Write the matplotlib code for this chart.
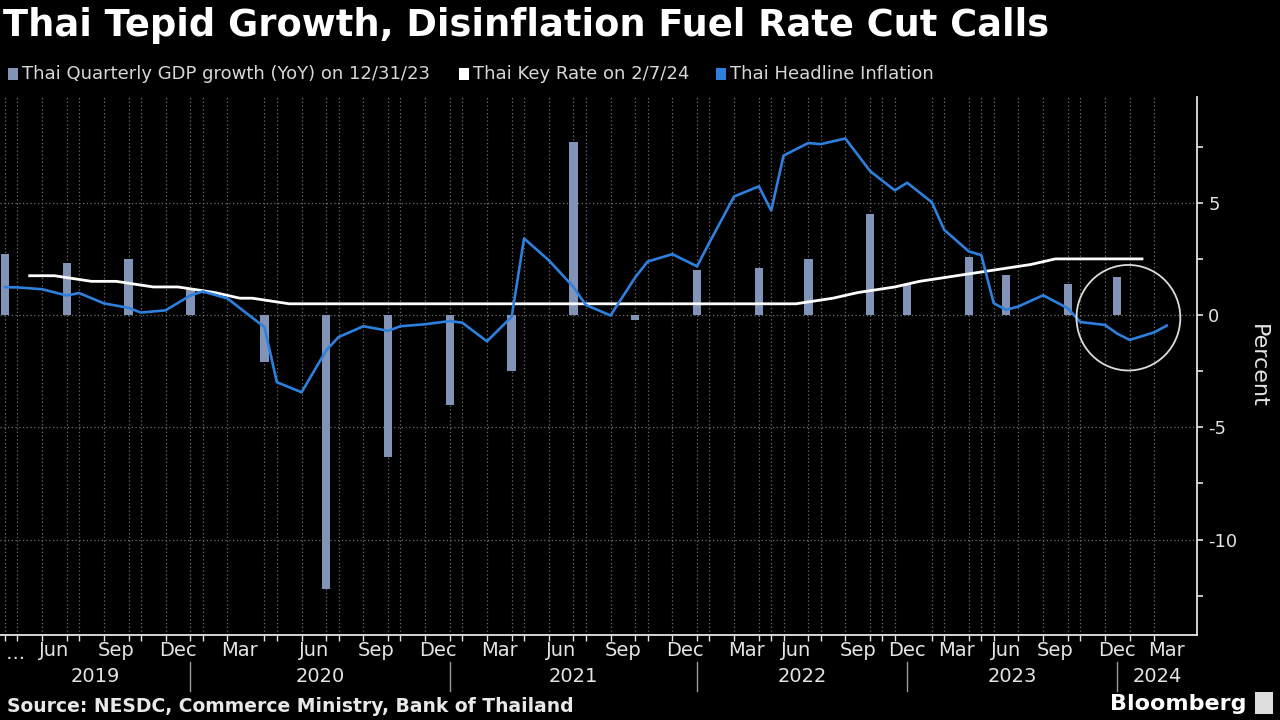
import numpy as np
import pandas as pd
import matplotlib
matplotlib.use("Agg")
import matplotlib.pyplot as plt
import matplotlib.transforms as mtransforms
from matplotlib.patches import Ellipse, Rectangle

# ---------------- data ----------------
title = "Thai Tepid Growth, Disinflation Fuel Rate Cut Calls"
legend_labels = ["Thai Quarterly GDP growth (YoY) on 12/31/23",
                 "Thai Key Rate on 2/7/24",
                 "Thai Headline Inflation"]
source = "Source: NESDC, Commerce Ministry, Bank of Thailand"

# monthly headline inflation, Mar 2019 .. Mar 2024 (%, YoY)
infl_first, infl_last = "2019-03", "2024-03"
inflation = [1.24, 1.23, 1.15, 0.87, 0.98, 0.52, 0.32, 0.11, 0.21, 0.87,
             1.05, 0.74, -0.54, -2.99, -3.44, -1.57, -0.98, -0.50, -0.70, -0.50, -0.41, -0.27,
             -0.34, -1.17, -0.08, 3.41, 2.44, 1.25, 0.45, -0.02, 1.68, 2.38, 2.71, 2.17,
             3.23, 5.28, 5.73, 4.65, 7.10, 7.66, 7.61, 7.86, 6.41, 5.98, 5.55, 5.89,
             5.02, 3.79, 2.83, 2.67, 0.53, 0.23, 0.38, 0.88, 0.30, -0.31, -0.44, -0.83,
             -1.11, -0.77, -0.47]

# quarterly GDP growth, 2019Q1 .. 2023Q4 (%, YoY)
gdp_first, gdp_last = "2019Q1", "2023Q4"
gdp_growth = [2.7, 2.3, 2.5, 1.2, -2.1, -12.2, -6.3, -4.0, -2.5, 7.7, -0.2, 2.0,
              2.1, 2.5, 4.5, 1.4, 2.6, 1.8, 1.4, 1.7]

# key rate at policy meeting dates
rate_dates = ["2019-05-08", "2019-06-26", "2019-08-07", "2019-09-25", "2019-11-06", "2019-12-18",
              "2020-02-05", "2020-03-20", "2020-03-25", "2020-05-20", "2020-06-24", "2020-08-05",
              "2020-09-23", "2020-11-18", "2020-12-23",
              "2021-02-03", "2021-03-24", "2021-05-05", "2021-06-23", "2021-08-04", "2021-09-29",
              "2021-11-10", "2021-12-22",
              "2022-02-09", "2022-03-30", "2022-06-08", "2022-08-10", "2022-09-28", "2022-11-30",
              "2023-01-25", "2023-03-29", "2023-05-31", "2023-08-02", "2023-09-27", "2023-11-29",
              "2024-02-07"]
key_rate = [1.75, 1.75, 1.50, 1.50, 1.25, 1.25,
            1.00, 0.75, 0.75, 0.50, 0.50, 0.50, 0.50, 0.50, 0.50,
            0.50, 0.50, 0.50, 0.50, 0.50, 0.50, 0.50, 0.50,
            0.50, 0.50, 0.50, 0.75, 1.00, 1.25,
            1.50, 1.75, 2.00, 2.25, 2.50, 2.50,
            2.50]

labelled_months = [3, 6, 9, 12]
month_names = {3: "Mar", 6: "Jun", 9: "Sep", 12: "Dec"}
y_major = [-10, -5, 0, 5]
y_minor = [-12.5, -7.5, -2.5, 2.5, 7.5]

# ---------------- colours ----------------
BG = "#000000"
BAR = "#8193b6"
BLUE = "#2d80de"
WHITE = "#ffffff"
TXT = "#e4e4e4"
GRID = "#6e6e6e"

# ---------------- observation axis (one slot per observation date) ----------------
months = pd.period_range(infl_first, infl_last, freq="M")
month_end = months.to_timestamp(how="end").normalize()
rate_ts = pd.to_datetime(rate_dates)
obs = sorted(set(month_end) | set(rate_ts))
pos = {d: i for i, d in enumerate(obs)}

x_infl = [pos[d] for d in month_end]
quarters = pd.period_range(gdp_first, gdp_last, freq="Q")
x_gdp = [pos[d] for d in quarters.to_timestamp(how="end").normalize()]
x_rate = [pos[d] for d in rate_ts]

# ---------------- figure ----------------
plt.rcParams["font.family"] = ["DejaVu Sans"]
plt.rcParams["axes.unicode_minus"] = False
fig = plt.figure(figsize=(12.8, 7.2), dpi=100, facecolor=BG)
ax = fig.add_axes([0.0, 0.118, 1197 / 1280, 0.865 - 0.118], facecolor=BG)

ax.bar(x_gdp, gdp_growth, width=0.68, color=BAR, zorder=2)
ax.plot(x_rate, key_rate, color=WHITE, lw=2.0, zorder=3, solid_joinstyle="round")
ax.plot(x_infl, inflation, color=BLUE, lw=1.9, zorder=4, solid_joinstyle="round")

x_left, x_right = -0.4, x_infl[-1] + 2.45
ax.set_xlim(x_left, x_right)
ax.set_ylim(-14.25, 9.7)

# y axis on right
ax.yaxis.tick_right()
ax.yaxis.set_label_position("right")
ax.set_yticks(y_major)
ax.set_yticklabels([str(v) for v in y_major])
ax.set_yticks(y_minor, minor=True)
ax.tick_params(axis="y", which="both", colors=TXT, labelcolor=TXT, labelsize=13,
               length=4, width=1.2, pad=4, direction="out")
ax.grid(axis="y", which="major", color=GRID, linestyle=(0, (1, 2)), lw=0.9, zorder=0)

# x axis: minor ticks at month ends (with grid), labels at first observation of labelled months
ax.set_xticks(x_infl, minor=True)
lab_pos, lab_txt = [], []
for m in months:
    if m.month in labelled_months:
        first = min(pos[d] for d in obs if d.year == m.year and d.month == m.month)
        if first == x_infl[0]:
            continue
        lab_pos.append(first)
        lab_txt.append(month_names[m.month])
ax.set_xticks(lab_pos)
ax.set_xticklabels(lab_txt)
ax.tick_params(axis="x", which="major", length=0, labelsize=14, labelcolor=TXT, pad=4)
ax.tick_params(axis="x", which="minor", length=4, width=1.0, color=TXT, direction="out")
ax.grid(axis="x", which="minor", color=GRID, linestyle=(0, (1, 2)), lw=0.9, zorder=0)
ax.grid(axis="x", which="major", visible=False)

for s in ["top", "left"]:
    ax.spines[s].set_visible(False)
for s in ["right", "bottom"]:
    ax.spines[s].set_color(TXT)
    ax.spines[s].set_linewidth(1.3)

trans = mtransforms.blended_transform_factory(ax.transData, ax.transAxes)
# "..." for clipped first label
ax.text(x_left, -0.035, " ...", transform=trans, ha="left", va="center", fontsize=14, color=TXT)

# year labels and separators
years = sorted(set(m.year for m in months))
for y in years:
    idx = [pos[d] for d in obs if d.year == y]
    lo = x_left if y == years[0] else max(pos[d] for d in obs if d.year == y - 1)
    hi = x_right if y == years[-1] else max(idx)
    ax.text((lo + hi) / 2, -0.078, str(y), transform=trans, ha="center", va="center",
            fontsize=14, color=TXT)
    if y != years[-1]:
        ax.plot([hi, hi], [-0.05, -0.104], transform=trans, color="#9a9a9a", lw=1.0,
                clip_on=False)

ax.set_ylabel("Percent", color=TXT, fontsize=16, rotation=270, labelpad=22)

# highlight circle around the latest readings
cx = pos[pd.Timestamp("2024-01-31")]
ax.add_patch(Ellipse((cx - 0.1, -0.12), width=8.4, height=4.7, fill=False,
                     edgecolor="#dcdcdc", lw=1.3, zorder=5))

# title, legend, source
fig.text(0.002, 1 - 26 / 720, title, ha="left", va="center", fontsize=26.5, fontweight="bold",
         color=WHITE)

leg_y = 1 - 74 / 720
leg_x = [8 / 1280, 459 / 1280, 716 / 1280]
leg_c = [BAR, WHITE, BLUE]
for lx, lc, lt in zip(leg_x, leg_c, legend_labels):
    fig.patches.append(Rectangle((lx, leg_y - 0.0085), 10 / 1280, 0.017, transform=fig.transFigure,
                                 facecolor=lc, edgecolor="none"))
    fig.text(lx + 14 / 1280, leg_y, lt, ha="left", va="center", fontsize=13, color="#d8d8d8")

fig.text(7 / 1280, 1 - 706 / 720, source, ha="left", va="center", fontsize=13.5,
         fontweight="bold", color="#e8e8e8")
fig.text(1246 / 1280, 1 - 704 / 720, "Bloomberg", ha="right", va="center", fontsize=16,
         fontweight="bold", color=WHITE)
fig.patches.append(Rectangle((1255 / 1280, 1 - 714 / 720), 18 / 1280, 22 / 720,
                             transform=fig.transFigure, facecolor="#dddddd", edgecolor="none"))

fig.savefig("out.png", dpi=100, facecolor=BG)
